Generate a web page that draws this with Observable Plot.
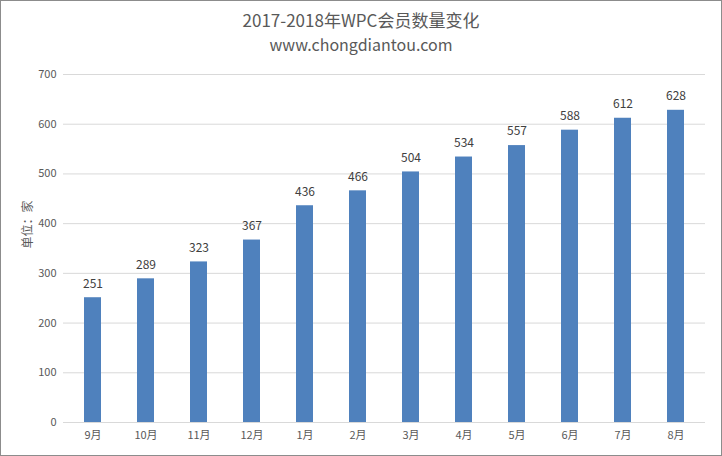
<!DOCTYPE html>
<html><head><meta charset="utf-8">
<script src="https://cdn.jsdelivr.net/npm/d3@7"></script>
<script src="https://cdn.jsdelivr.net/npm/@observablehq/plot@0.6"></script>
<style>
html,body{margin:0;padding:0;background:#fff;}
#wrap{width:722px;height:456px;box-sizing:border-box;border:1px solid #8c8c8c;position:relative;overflow:hidden;font-family:"Noto Sans CJK SC","Noto Sans",sans-serif;}
#head{height:61px;text-align:center;color:#595959;}
#title{font-size:17px;line-height:20px;padding-top:9px;}
#sub{font-size:16px;line-height:20px;padding-top:4px;}
</style></head>
<body>
<div id="wrap">
<div id="head"><div id="title">2017-2018年WPC会员数量变化</div><div id="sub">www.chongdiantou.com</div></div>
<div id="chart"></div>
</div>
<script>
const months = ["9月","10月","11月","12月","1月","2月","3月","4月","5月","6月","7月","8月"];
const members = [251,289,323,367,436,466,504,534,557,588,612,628];
const yTicks = [0,100,200,300,400,500,600,700];
const yLabel = "单位：家";

const data = months.map((m,i)=>({month:m, value:members[i]}));

const chart = Plot.plot({
  width: 720,
  height: 393,
  marginTop: 12,
  marginBottom: 33,
  marginLeft: 62,
  marginRight: 16,
  style: {fontFamily: '"Noto Sans CJK SC","Noto Sans",sans-serif', fontSize: "11px", color: "#595959", background: "transparent"},
  x: {domain: months, paddingInner: 0.68, paddingOuter: 0.34, label: null},
  y: {domain: [0,700], label: null},
  marks: [
    Plot.gridY(yTicks, {stroke: "#d9d9d9", strokeOpacity: 1}),
    Plot.axisY(yTicks, {tickSize: 0, tickPadding: 7, label: null, fill: "#595959", fontSize: 11}),
    Plot.axisX({tickSize: 0, tickPadding: 9, label: null, fill: "#595959", fontSize: 11}),
    Plot.barY(data, {x: "month", y: "value", fill: "#4f81bd"}),
    Plot.text(data, {x: "month", y: "value", text: d => String(d.value), dy: -14, fill: "#404040", fontSize: 12}),
    Plot.text([yLabel], {frameAnchor: "left", rotate: -90, dx: -35, fill: "#595959", fontSize: 12})
  ]
});
document.getElementById("chart").appendChild(chart);
</script>
</body></html>
